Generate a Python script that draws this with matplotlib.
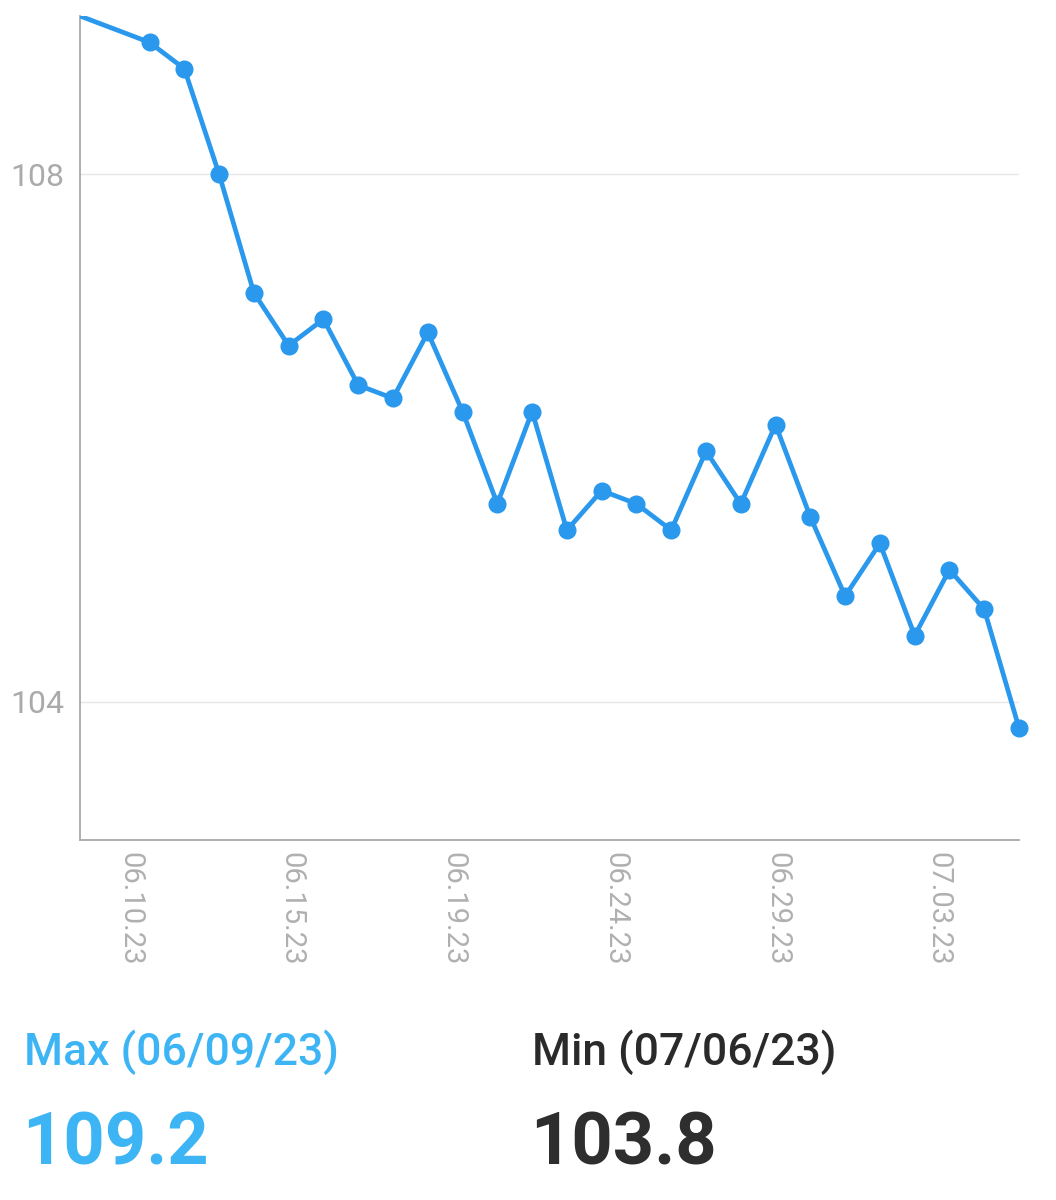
import matplotlib
matplotlib.use("Agg")
import matplotlib.pyplot as plt
import numpy as np
from datetime import datetime

plt.rcParams['font.family'] = ['Roboto', 'DejaVu Sans']

dates = ["2023-06-09", "2023-06-11", "2023-06-12", "2023-06-13", "2023-06-14", "2023-06-15",
         "2023-06-16", "2023-06-17", "2023-06-18", "2023-06-19", "2023-06-20", "2023-06-21",
         "2023-06-22", "2023-06-23", "2023-06-24", "2023-06-25", "2023-06-26", "2023-06-27",
         "2023-06-28", "2023-06-29", "2023-06-30", "2023-07-01", "2023-07-02", "2023-07-03",
         "2023-07-04", "2023-07-05", "2023-07-06"]
values = [109.2, 109.0, 108.8, 108.0, 107.1, 106.7, 106.9, 106.4, 106.3, 106.8, 106.2, 105.5,
          106.2, 105.3, 105.6, 105.5, 105.3, 105.9, 105.5, 106.1, 105.4, 104.8, 105.2, 104.5,
          105.0, 104.7, 103.8]
tick_times = ["2023-06-10 10:34", "2023-06-15 02:10", "2023-06-19 17:46", "2023-06-24 09:22",
              "2023-06-29 00:58", "2023-07-03 16:34"]
tick_labels = ["06.10.23", "06.15.23", "06.19.23", "06.24.23", "06.29.23", "07.03.23"]
y_ticks = [104, 108]
max_label = "Max (06/09/23)"
max_value = "109.2"
min_label = "Min (07/06/23)"
min_value = "103.8"

t0 = datetime.strptime(dates[0], "%Y-%m-%d")
x = np.array([(datetime.strptime(d, "%Y-%m-%d") - t0).total_seconds() / 86400 for d in dates])
xt = [(datetime.strptime(t, "%Y-%m-%d %H:%M") - t0).total_seconds() / 86400 for t in tick_times]

W, H = 1056, 1200
fig = plt.figure(figsize=(W / 100, H / 100), dpi=100)
ax = fig.add_axes([80 / W, 1 - 840 / H, (1019 - 80) / W, (840 - 16) / H])

line_color = "#2A98EC"
ax.plot(x, values, color=line_color, lw=3.4, zorder=3, solid_joinstyle='round')
ax.plot(x[1:], values[1:], 'o', color=line_color, ms=12, zorder=4, clip_on=False)

ax.set_xlim(0, 27)
ax.set_ylim(102.95, 109.2)

ax.set_yticks(y_ticks)
ax.set_yticklabels([str(v) for v in y_ticks])
ax.set_xticks(xt)
ax.set_xticklabels(tick_labels, rotation=-90)

ax.tick_params(axis='y', length=0, pad=11, labelsize=23, labelcolor="#aaaaaa")
ax.tick_params(axis='x', length=0, pad=9, labelsize=21, labelcolor="#b0b0b0")
for lbl in ax.get_xticklabels():
    lbl.set_verticalalignment('top')
    lbl.set_horizontalalignment('center')

ax.grid(axis='y', color="#e6e6e6", lw=1)
ax.set_axisbelow(True)
for s in ['top', 'right']:
    ax.spines[s].set_visible(False)
for s in ['left', 'bottom']:
    ax.spines[s].set_color("#a8a8a8")
    ax.spines[s].set_linewidth(1.3)

fig.text(24 / W, 1 - 1052 / H, max_label, color="#3DB5F5", fontsize=32, fontweight='medium',
         va='center', ha='left')
fig.text(22 / W, 1 - 1145 / H, max_value, color="#3DB5F5", fontsize=52, fontweight='bold',
         va='center', ha='left')
fig.text(532 / W, 1 - 1052 / H, min_label, color="#2a2a2a", fontsize=32, fontweight='medium',
         va='center', ha='left')
fig.text(530 / W, 1 - 1145 / H, min_value, color="#2e2e2e", fontsize=52, fontweight='bold',
         va='center', ha='left')

fig.savefig("out.png", dpi=100)
